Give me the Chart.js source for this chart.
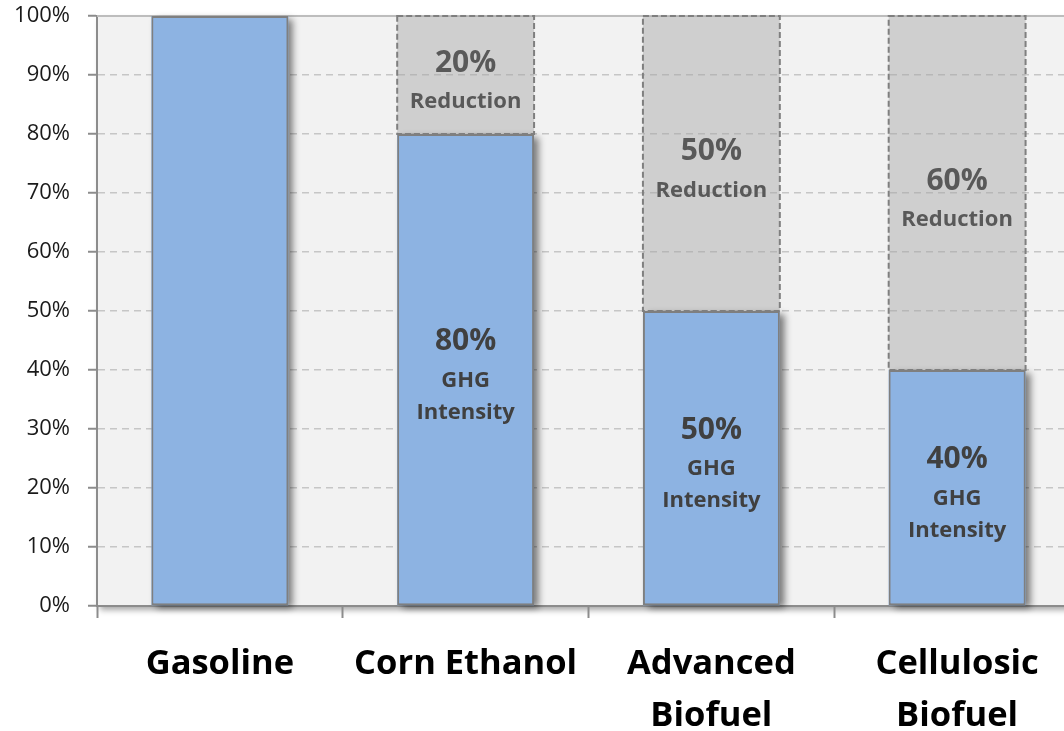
<!DOCTYPE html>
<html>
<head>
<meta charset="utf-8">
<script src="https://cdn.jsdelivr.net/npm/chart.js@4.4.1/dist/chart.umd.min.js"></script>
<style>
  html, body { margin: 0; padding: 0; background: #ffffff; overflow: hidden; }
  #wrap { width: 1080px; height: 731px; }
</style>
</head>
<body>
<div id="wrap"><canvas id="chart" width="1080" height="731"></canvas></div>
<script>
// Fuel pathways and their lifecycle greenhouse-gas intensity relative to gasoline
const categories = ['Gasoline', 'Corn Ethanol', ['Advanced', 'Biofuel'], ['Cellulosic', 'Biofuel']];
const ghgIntensity = [100, 80, 50, 40];   // % of the gasoline baseline
const reduction = [0, 20, 50, 60];        // % cut versus gasoline
const yTicks = [0, 10, 20, 30, 40, 50, 60, 70, 80, 90, 100];
const intensityCaption = ['GHG', 'Intensity'];
const reductionCaption = ['Reduction'];

const FONT = '"Open Sans", Lato, sans-serif';
const AXIS_GREY = '#8c8c8c';
const BAR_BLUE = '#8db3e2';

// Plot-area panel with a soft drop shadow and a solid top edge
const panelPlugin = {
  id: 'panel',
  beforeDraw(chart) {
    const { ctx, chartArea: a } = chart;
    ctx.save();
    ctx.shadowColor = 'rgba(0,0,0,0.35)';
    ctx.shadowBlur = 6;
    ctx.shadowOffsetX = 3;
    ctx.shadowOffsetY = 4;
    ctx.fillStyle = '#f2f2f2';
    ctx.fillRect(a.left, a.top, a.right - a.left, a.bottom - a.top);
    ctx.restore();
  },
  beforeDatasetsDraw(chart) {
    const { ctx, chartArea: a } = chart;
    ctx.save();
    ctx.strokeStyle = '#bdbdbd';
    ctx.lineWidth = 2;
    ctx.beginPath();
    ctx.moveTo(a.left, a.top);
    ctx.lineTo(a.right, a.top);
    ctx.stroke();
    ctx.restore();
  }
};

// Drop shadow cast by the intensity bars (bar elements clip their own drawing,
// so the shadow is laid down underneath before the dataset is drawn)
const barShadowPlugin = {
  id: 'barShadow',
  beforeDatasetDraw(chart, args) {
    if (args.index !== 0) return;
    const ctx = chart.ctx;
    ctx.save();
    ctx.shadowColor = 'rgba(0,0,0,0.5)';
    ctx.shadowBlur = 7;
    ctx.shadowOffsetX = 5;
    ctx.shadowOffsetY = 3;
    ctx.fillStyle = BAR_BLUE;
    args.meta.data.forEach(el => {
      const top = Math.min(el.y, el.base), bot = Math.max(el.y, el.base);
      ctx.fillRect(el.x - el.width / 2, top, el.width, bot - top);
    });
    ctx.restore();
  }
};

// Dashed outline around the reduction segments, plus the value captions
const annotatePlugin = {
  id: 'annotate',
  afterDatasetsDraw(chart) {
    const ctx = chart.ctx;
    const redMeta = chart.getDatasetMeta(1);
    const ghgMeta = chart.getDatasetMeta(0);

    ctx.save();
    ctx.strokeStyle = '#7f7f7f';
    ctx.lineWidth = 2;
    ctx.setLineDash([6, 3]);
    redMeta.data.forEach((el, i) => {
      if (!reduction[i]) return;
      const half = el.width / 2;
      const top = Math.min(el.y, el.base), bot = Math.max(el.y, el.base);
      ctx.strokeRect(el.x - half, top, el.width, bot - top);
    });
    ctx.restore();

    ctx.save();
    ctx.textAlign = 'center';
    ctx.textBaseline = 'middle';
    // intensity captions, only for the alternative fuels
    ghgMeta.data.forEach((el, i) => {
      if (!reduction[i]) return;
      const mid = (el.y + el.base) / 2;
      ctx.fillStyle = '#404040';
      ctx.font = 'bold 30px ' + FONT;
      ctx.fillText(ghgIntensity[i] + '%', el.x, mid - 28);
      ctx.font = 'bold 22px ' + FONT;
      ctx.fillText(intensityCaption[0], el.x, mid + 11);
      ctx.fillText(intensityCaption[1], el.x, mid + 43);
    });
    redMeta.data.forEach((el, i) => {
      if (!reduction[i]) return;
      const mid = (el.y + el.base) / 2;
      ctx.fillStyle = '#595959';
      ctx.font = 'bold 30px ' + FONT;
      ctx.fillText(reduction[i] + '%', el.x, mid - 12);
      ctx.font = 'bold 22px ' + FONT;
      ctx.fillText(reductionCaption[0], el.x, mid + 27);
    });
    ctx.restore();
  }
};

new Chart(document.getElementById('chart'), {
  type: 'bar',
  data: {
    labels: categories,
    datasets: [
      {
        label: 'GHG Intensity',
        data: ghgIntensity,
        backgroundColor: BAR_BLUE,
        borderColor: '#7f7f7f',
        borderWidth: 2,
        borderSkipped: false
      },
      {
        label: 'Reduction',
        data: reduction,
        backgroundColor: 'rgba(165,165,165,0.45)',
        borderWidth: 0
      }
    ]
  },
  options: {
    responsive: false,
    animation: false,
    devicePixelRatio: 1,
    layout: { padding: { top: 16, right: 0, bottom: 0, left: 0 } },
    datasets: { bar: { categoryPercentage: 1, barPercentage: 0.557 } },
    plugins: { legend: { display: false }, tooltip: { enabled: false } },
    scales: {
      x: {
        stacked: true,
        offset: true,
        afterFit(scale) { scale.height = 125; },
        border: { display: true, color: AXIS_GREY, width: 2 },
        grid: {
          offset: true,
          drawOnChartArea: false,
          drawTicks: true,
          tickLength: 12,
          tickColor: AXIS_GREY,
          tickWidth: 2
        },
        ticks: {
          color: '#000000',
          padding: 20,
          maxRotation: 0,
          autoSkip: false,
          font: { family: FONT, size: 34.5, weight: 'bold', lineHeight: 1.52 }
        }
      },
      y: {
        stacked: true,
        min: 0,
        max: 100,
        afterFit(scale) {
          scale.width = 97;
          scale.paddingTop = 0;
          scale.paddingBottom = 0;
        },
        afterBuildTicks(scale) { scale.ticks = yTicks.map(v => ({ value: v })); },
        border: { display: true, color: AXIS_GREY, width: 2, dash: [7, 5] },
        grid: {
          color: ctx => (ctx.tick && ctx.tick.value === 100) ? 'rgba(0,0,0,0)' : '#c6c6c6',
          lineWidth: 1.5,
          drawTicks: true,
          tickLength: 9,
          tickColor: AXIS_GREY,
          tickWidth: 2,
          tickBorderDash: []
        },
        ticks: {
          color: '#1a1a1a',
          padding: 18,
          font: { family: FONT, size: 22 },
          callback: v => v + '%'
        }
      }
    }
  },
  plugins: [panelPlugin, barShadowPlugin, annotatePlugin]
});
</script>
</body>
</html>
